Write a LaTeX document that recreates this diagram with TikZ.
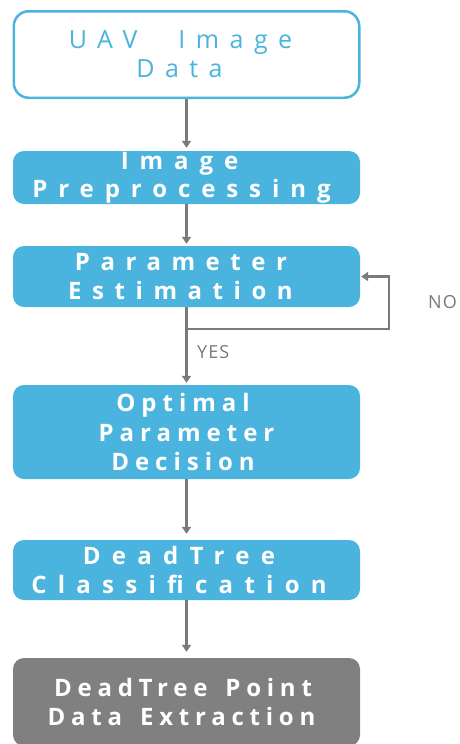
\documentclass[tikz,border=0pt]{standalone}
\usepackage{fontspec}
\setmainfont{Open Sans}
\usetikzlibrary{arrows.meta,calc}
\definecolor{flowblue}{HTML}{4AB4DE}
\definecolor{flowgray}{HTML}{808080}
\definecolor{linkgray}{HTML}{7A7A7A}
\newcommand{\spaced}[1]{\bfseries\addfontfeature{LetterSpace=#1}}
% trailing letter space at a line end, which pulls the centred line left
\newcommand{\pad}[1]{\hspace*{#1pt}}
\begin{document}
\begin{tikzpicture}[x=1pt,y=-1pt,
  stepbox/.style={minimum width=347pt, inner sep=0pt, align=center,
    rounded corners=11pt, fill=flowblue, text=white},
  inputbox/.style={minimum width=345.5pt, minimum height=86.5pt, inner sep=0pt,
    align=center, rounded corners=15pt, draw=flowblue, line width=2.5pt,
    fill=white, text=flowblue},
  outputbox/.style={stepbox, fill=flowgray},
  flow/.style={draw=linkgray, line width=2.5pt,
    -{Triangle[width=9pt,length=7pt]}},
  tag/.style={text=linkgray, font=\fontsize{18}{22}\selectfont\addfontfeature{LetterSpace=6}, inner sep=0pt}
]
\useasboundingbox (0,0) rectangle (459,744);
\clip (0,0) rectangle (459,744);

% process boxes, top to bottom
\node[inputbox, font=\fontsize{25}{29}\selectfont\addfontfeature{LetterSpace=42}]
  (uav) at (186.5,54.5) {UAV\hspace{24pt} Image\pad{12}\\Data\pad{14}};
\node[stepbox, minimum height=53pt, font=\fontsize{24}{28}\selectfont\spaced{45.5}]
  (pre) at (186.5,177.5) {Image\pad{14}\\Preprocessing\pad{10}};
\node[stepbox, minimum height=61pt, font=\fontsize{24}{29}\selectfont\spaced{44}]
  (est) at (186.5,276.5) {Parameter\pad{11}\\Estimation\pad{12}};
\node[stepbox, minimum height=94pt, font=\fontsize{24}{29.5}\selectfont\spaced{25}]
  (opt) at (186.5,432) {Optimal\pad{7}\\Parameter\pad{5}\\Decision\pad{7}};
\node[stepbox, minimum height=60pt, font=\fontsize{24}{29}\selectfont\spaced{47}]
  (cls) at (186.5,570) {DeadTree\pad{15}\\Classification\pad{15}};
\node[outputbox, minimum height=88pt, font=\fontsize{24}{29}\selectfont\spaced{24}]
  (ext) at (186.5,702) {DeadTree\hspace{6pt} Point\pad{7}\\Data\hspace{6pt} Extraction\pad{10}};

% main flow
\draw[flow, shorten >=3pt] (uav) -- (pre);
\draw[flow, shorten >=2pt] (pre) -- (est);
\draw[flow, shorten >=2pt] (est) -- (opt);
\draw[flow, shorten >=6pt] (opt) -- (cls);
\draw[flow, shorten >=6pt] (cls) -- (ext);

% loop back when the estimate is rejected
\coordinate (split) at (186.5,329);
\draw[flow, shorten >=1pt] (split) -- (389,329) |- (est.east);

\node[tag, anchor=base west] (yes) at (197,358) {YES};
\node[tag, anchor=base west] (no) at (428,308) {NO};
\end{tikzpicture}
\end{document}
